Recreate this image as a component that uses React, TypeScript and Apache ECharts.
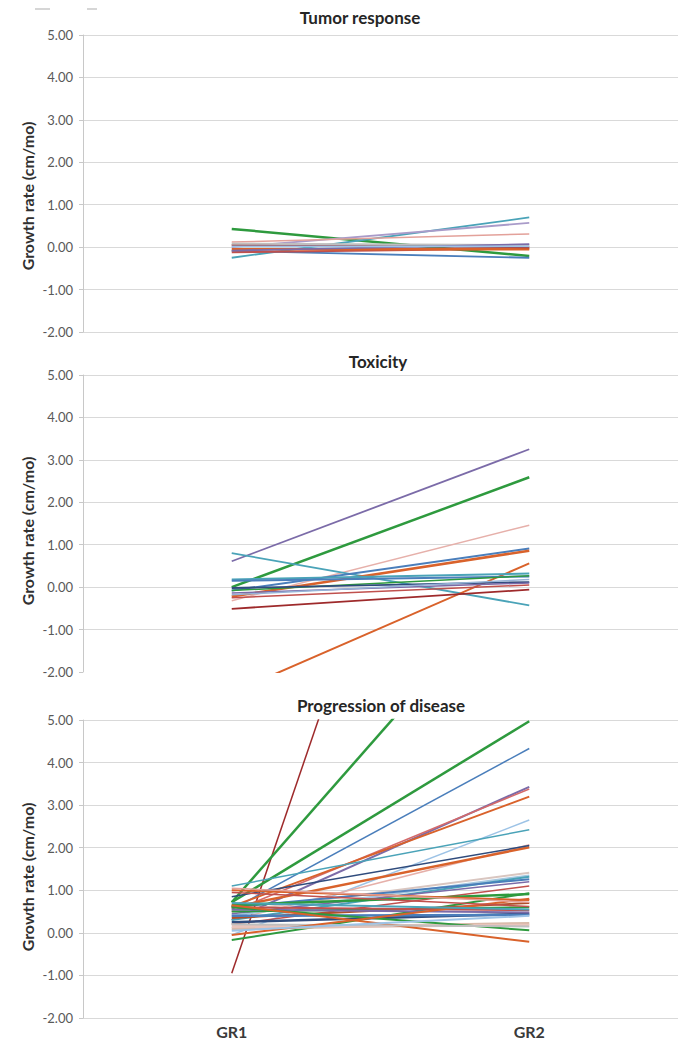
import React, { useEffect, useRef } from "react";
import * as echarts from "echarts";

const categories = ["GR1", "GR2"];
const panelTitles = ["Tumor response", "Toxicity", "Progression of disease"];
const yAxisTitle = "Growth rate (cm/mo)";

// Tumor response
const tumorGR1 = [0.43, -0.25, 0.0, 0.12, -0.09, -0.12, -0.05, 0.05, 0.08, -0.08, 0.02];
const tumorGR2 = [-0.21, 0.7, 0.57, 0.31, -0.25, -0.03, -0.05, 0.0, 0.05, 0.07, 0.02];

// Toxicity
const toxGR1 = [0.61, 0.0, -0.32, 0.8, -0.08, -0.22, -2.49, 0.18, 0.15, -0.08, -0.02, -0.14, -0.51, -0.25, -0.18];
const toxGR2 = [3.25, 2.59, 1.46, -0.43, 0.91, 0.86, 0.56, 0.32, 0.25, 0.27, 0.12, 0.1, -0.06, 0.05, 0.18];

// Progression of disease
const podGR1 = [-0.95, 0.72, 0.72, 0.55, 0.3, 0.5, 0.62, -0.05, 1.1, 0.3, 0.6, 0.85, 0.5, 0.4, 0.3, 0.6, 0.45, 0.2, 0.65, -0.17, 1.0, 0.35, 0.5, 0.6, 0.25, 0.4, 0.55, 0.1, 0.15, 0.6, 0.65, 0.2, -0.05, 0.95, 0.7, 0.05, 1.05];
const podGR2 = [19.5, 8.67, 4.97, 4.33, 3.43, 3.38, 3.2, 2.65, 2.42, 2.07, 2.01, 2.05, 1.41, 1.35, 1.32, 1.26, 1.2, 1.1, 0.91, 0.93, 0.77, 0.7, 0.6, 0.53, 0.45, 0.42, 0.48, 0.22, 0.18, 0.06, -0.21, 0.15, 0.8, 0.62, 0.55, 0.4, 0.72];

// styles
const G = "#2E9A3E", TEAL = "#4AA3B8", LAV = "#A99BC9", SAL = "#E3A19A", BLUE = "#4A7EBB", RED = "#C0504D",
  OR = "#D9622B", DRED = "#9E2A2B", GRAY = "#BFBFBF", PUR = "#7B6BA8", LBLUE = "#9DC3E6", NAVY = "#2F4B7C",
  PINK = "#E6B0AA", TAN = "#D8B9A8", BROWN = "#B0502A";

const tumorColors = [G, TEAL, LAV, SAL, BLUE, RED, OR, DRED, GRAY, PUR, LBLUE];
const tumorWidths = [2.5, 1.8, 1.8, 1.5, 1.8, 2, 2.5, 2, 2, 1.8, 1.8];
const toxColors = [PUR, G, PINK, TEAL, BLUE, OR, OR, TEAL, BLUE, G, NAVY, PUR, DRED, RED, "#95B3D7"];
const toxWidths = [1.8, 2.5, 1.5, 1.8, 2, 2.5, 2, 2, 2, 1.5, 1.8, 1.5, 1.8, 1.5, 1.5];
const podColors = [DRED, G, G, BLUE, PUR, "#D46A6A", OR, LBLUE, TEAL, PINK, OR, NAVY, "#D9C6C0", "#A6C8E0", TEAL, BLUE, PUR, RED, G, G, OR, BROWN, G, RED, NAVY, BLUE, PUR, TAN, "#E8C4BC", G, OR, GRAY, OR, RED, TEAL, LBLUE, SAL];
const podWidths = [1.5, 2.5, 2.5, 1.5, 2, 1.5, 2, 1.5, 1.5, 1.5, 2.5, 1.5, 2, 2, 2, 2, 1.5, 1.5, 2.5, 2, 2, 2, 2, 2, 2.5, 2.5, 2, 3, 3, 2, 2, 2, 2, 1.5, 2, 2, 1.5];

const FONT = "Lato, 'Open Sans', sans-serif";

export default function App() {
  const ref = useRef<HTMLDivElement>(null);
  useEffect(() => {
    if (!ref.current) return;
    const chart = echarts.init(ref.current, undefined, { renderer: "svg" });
    const gridTops = [35, 375, 720];
    const gridHeights = [297, 297, 298];
    const titleX = [360, 378, 381];
    const titleY = [17, 361, 705];
    const axisTitleY = [196, 531, 877];
    const panels = [
      { g1: tumorGR1, g2: tumorGR2, c: tumorColors, w: tumorWidths },
      { g1: toxGR1, g2: toxGR2, c: toxColors, w: toxWidths },
      { g1: podGR1, g2: podGR2, c: podColors, w: podWidths },
    ];
    const grid = gridTops.map((t, i) => ({ left: 83, width: 604, top: t, height: gridHeights[i] }));
    const xAxis = [0, 1, 2].map((i) => ({
      type: "category",
      gridIndex: i,
      data: categories,
      boundaryGap: true,
      axisLine: { show: false },
      axisTick: { show: false },
      axisLabel: {
        show: i === 2,
        color: "#3a3a3a",
        fontSize: 16,
        fontWeight: "bold",
        fontFamily: FONT,
        margin: 5,
      },
    }));
    const gl = "#D9D9D9";
    const yAxis = [0, 1, 2].map((i) => ({
      type: "value",
      gridIndex: i,
      min: -2,
      max: 5,
      interval: 1,
      axisLabel: {
        formatter: (v: number) => v.toFixed(2),
        color: "#595959",
        fontSize: 13,
        fontFamily: FONT,
        margin: 10,
      },
      axisLine: { show: true, lineStyle: { color: "#C8C8C8" } },
      axisTick: { show: true, length: 4, lineStyle: { color: "#C8C8C8" } },
      splitLine: {
        show: true,
        lineStyle: { color: i === 1 ? ["rgba(0,0,0,0)", gl, gl, gl, gl, gl, gl, gl] : gl, width: 1 },
      },
    }));
    const series: any[] = [];
    panels.forEach((p, pi) => {
      p.g1.forEach((v, k) => {
        series.push({
          type: "line",
          xAxisIndex: pi,
          yAxisIndex: pi,
          data: [v, p.g2[k]],
          symbol: "none",
          silent: true,
          clip: true,
          lineStyle: { color: p.c[k], width: p.w[k] },
        });
      });
    });
    const graphic: any[] = [];
    panelTitles.forEach((t, i) => {
      graphic.push({
        type: "text",
        x: titleX[i],
        y: titleY[i],
        style: {
          text: t,
          font: `bold 17px ${FONT}`,
          fill: "#262626",
          textAlign: "center",
          textVerticalAlign: "middle",
        },
      });
      graphic.push({
        type: "text",
        x: 27,
        y: axisTitleY[i],
        rotation: Math.PI / 2,
        style: {
          text: yAxisTitle,
          font: `bold 16px ${FONT}`,
          fill: "#303030",
          textAlign: "center",
          textVerticalAlign: "middle",
        },
      });
    });
    graphic.push({ type: "rect", shape: { x: 35, y: 8, width: 15, height: 2 }, style: { fill: "#D6D6D6" } });
    graphic.push({ type: "rect", shape: { x: 87, y: 8, width: 10, height: 2 }, style: { fill: "#D6D6D6" } });

    chart.setOption({
      animation: false,
      backgroundColor: "#ffffff",
      grid,
      xAxis,
      yAxis,
      series,
      graphic,
    });
    return () => chart.dispose();
  }, []);
  return (
    <div
      ref={ref}
      style={{ position: "absolute", left: 0, top: 0, width: 678, height: 1041, background: "#fff" }}
    />
  );
}
